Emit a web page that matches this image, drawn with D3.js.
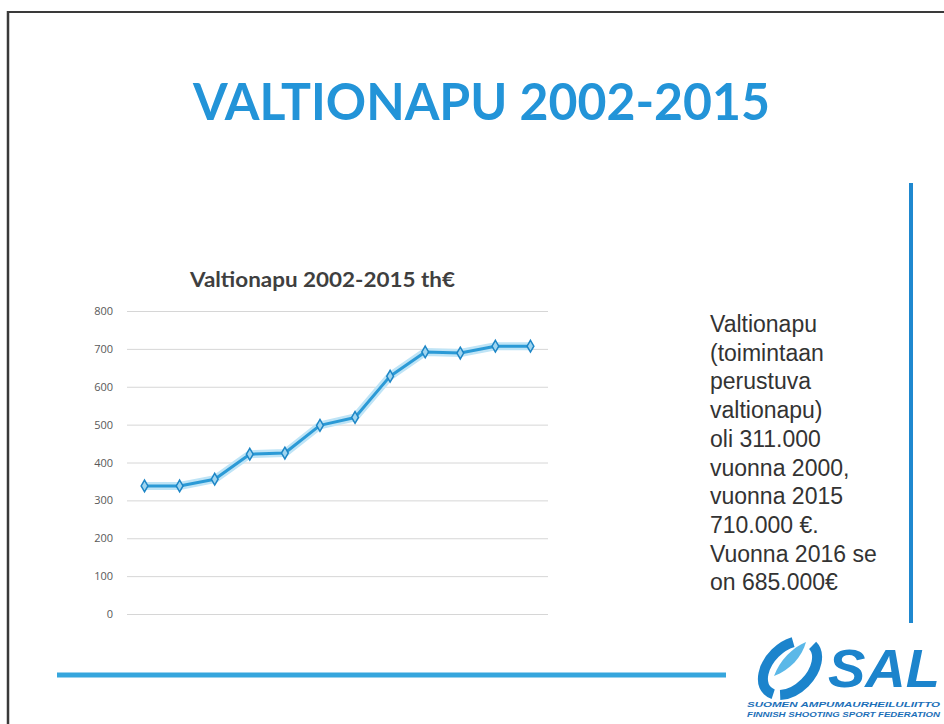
<!DOCTYPE html>
<html>
<head>
<meta charset="utf-8">
<script src="https://cdn.jsdelivr.net/npm/d3@7"></script>
<style>
  html, body { margin: 0; padding: 0; background: #fff; }
  svg { display: block; }
</style>
</head>
<body>
<div id="slide"></div>
<script>
const width = 944;
const height = 724;

// data (thousand euros), one point per year
var years = [2004, 2005, 2006, 2007, 2008, 2009, 2010, 2011, 2012, 2013, 2014, 2015];
var valtionapu = [338, 338, 356, 422, 425, 498, 519, 628, 692, 689, 707, 707];
var yTicks = [0, 100, 200, 300, 400, 500, 600, 700, 800];

var slideTitle = "VALTIONAPU 2002-2015";
var chartTitle = "Valtionapu 2002-2015  th€";
var sideText = ["Valtionapu", "(toimintaan", "perustuva", "valtionapu)", "oli 311.000",
                "vuonna 2000,", "vuonna 2015", "710.000 €.", "Vuonna 2016 se", "on 685.000€"];
var logoLines = ["SUOMEN AMPUMAURHEILULIITTO", "FINNISH SHOOTING SPORT FEDERATION"];

var color_blue = '#2394d8'
var color_line = '#2b9ad6'
var color_grid = '#d6d6d6'
var color_logo = '#1c84cc'

var svg = d3.select("div#slide")
  .append("svg")
  .attr("width", width)
  .attr("height", height);

// scanned page border
svg.append("line")
  .attr("x1", 7).attr("x2", width).attr("y1", 12).attr("y2", 12)
  .attr("stroke", "#3a3a3a").attr("stroke-width", 2);
svg.append("line")
  .attr("x1", 8).attr("x2", 8).attr("y1", 11).attr("y2", height)
  .attr("stroke", "#3a3a3a").attr("stroke-width", 2.5);

// big title
svg.append("text")
  .attr("x", 193)
  .attr("y", 120)
  .attr("textLength", 577)
  .attr("lengthAdjust", "spacingAndGlyphs")
  .style("font-family", "Lato, 'Open Sans', sans-serif")
  .style("font-weight", "bold")
  .style("font-size", "52px")
  .attr("fill", color_blue)
  .text(slideTitle);

// decorative blue rules
svg.append("line")
  .attr("x1", 911).attr("x2", 911).attr("y1", 183).attr("y2", 623)
  .attr("stroke", "#1f88cf").attr("stroke-width", 4);
svg.append("line")
  .attr("x1", 57).attr("x2", 726).attr("y1", 675).attr("y2", 675)
  .attr("stroke", "#36a6dd").attr("stroke-width", 5);

// ---- chart ----
const x = d3.scalePoint()
  .domain(years)
  .range([127, 548])
  .padding(0.5);

const y = d3.scaleLinear()
  .domain([0, 800])
  .range([614, 311]);

svg.append("text")
  .attr("x", 190)
  .attr("y", 287)
  .attr("textLength", 265)
  .attr("lengthAdjust", "spacingAndGlyphs")
  .style("font-family", "Lato, 'Open Sans', sans-serif")
  .style("font-weight", "bold")
  .style("font-size", "20px")
  .attr("fill", "#3f3f3f")
  .text(chartTitle);

const yAxis = svg.append("g")
  .attr("transform", "translate(127,0)")
  .style("color", "#595959")
  .call(d3.axisLeft(y).tickValues(yTicks).tickSize(-421).tickPadding(14));

yAxis.select(".domain").remove();
yAxis.selectAll(".tick line")
  .attr("stroke", color_grid)
  .attr("stroke-width", 1);
yAxis.selectAll(".tick text")
  .attr("fill", "#595959")
  .style("font-family", "'Open Sans', sans-serif")
  .style("font-size", "11px");

const line = d3.line()
  .x(function(d, i) { return x(years[i]); })
  .y(function(d) { return y(d); });

// soft glow under the series
svg.append("path")
  .datum(valtionapu)
  .attr("d", line)
  .attr("fill", "none")
  .attr("stroke", "#bfe4f6")
  .attr("stroke-width", 8)
  .attr("stroke-linejoin", "round");

svg.append("path")
  .datum(valtionapu)
  .attr("d", line)
  .attr("fill", "none")
  .attr("stroke", color_line)
  .attr("stroke-width", 3)
  .attr("stroke-linejoin", "round");

svg.append("g").selectAll("path")
  .data(valtionapu)
  .enter()
  .append("path")
  .attr("d", d3.symbol().type(d3.symbolDiamond).size(40))
  .attr("transform", function(d, i) { return "translate(" + x(years[i]) + "," + y(d) + ")"; })
  .attr("fill", "#9fd5f0")
  .attr("stroke", "#1d86c6")
  .attr("stroke-width", 1.5);

// ---- side text ----
svg.append("text")
  .style("font-family", "'Liberation Sans', Arial, sans-serif")
  .style("font-size", "23px")
  .attr("fill", "#333")
  .selectAll("tspan")
  .data(sideText)
  .enter()
  .append("tspan")
  .attr("x", 710)
  .attr("y", function(d, i) { return 332 + i * 28.7; })
  .text(function(d) { return d; });

// ---- SAL logo ----
const logo = svg.append("g");

logo.append("ellipse")
  .attr("cx", 790).attr("cy", 668)
  .attr("rx", 32).attr("ry", 21)
  .attr("transform", "rotate(-45 790 668)")
  .attr("fill", "none")
  .attr("stroke", color_logo)
  .attr("stroke-width", 10)
  .attr("stroke-dasharray", "70 7 70 200");

logo.append("path")
  .attr("d", "M774,676 C780,660 792,648 806,642 C802,657 790,670 774,676 Z")
  .attr("fill", "#5bb8e8");

logo.append("text")
  .attr("x", 828)
  .attr("y", 687)
  .attr("textLength", 112)
  .attr("lengthAdjust", "spacingAndGlyphs")
  .style("font-family", "'Liberation Sans', Arial, sans-serif")
  .style("font-weight", "bold")
  .style("font-style", "italic")
  .style("font-size", "54px")
  .attr("fill", color_logo)
  .text("SAL");

logo.selectAll("text.sub")
  .data(logoLines)
  .enter()
  .append("text")
  .attr("class", "sub")
  .attr("x", 747)
  .attr("y", function(d, i) { return 707 + i * 10; })
  .attr("textLength", 193)
  .attr("lengthAdjust", "spacingAndGlyphs")
  .style("font-family", "'Liberation Sans', Arial, sans-serif")
  .style("font-weight", "bold")
  .style("font-style", "italic")
  .style("font-size", "7.5px")
  .attr("fill", "#1c6fb8")
  .text(function(d) { return d; });
</script>
</body>
</html>
